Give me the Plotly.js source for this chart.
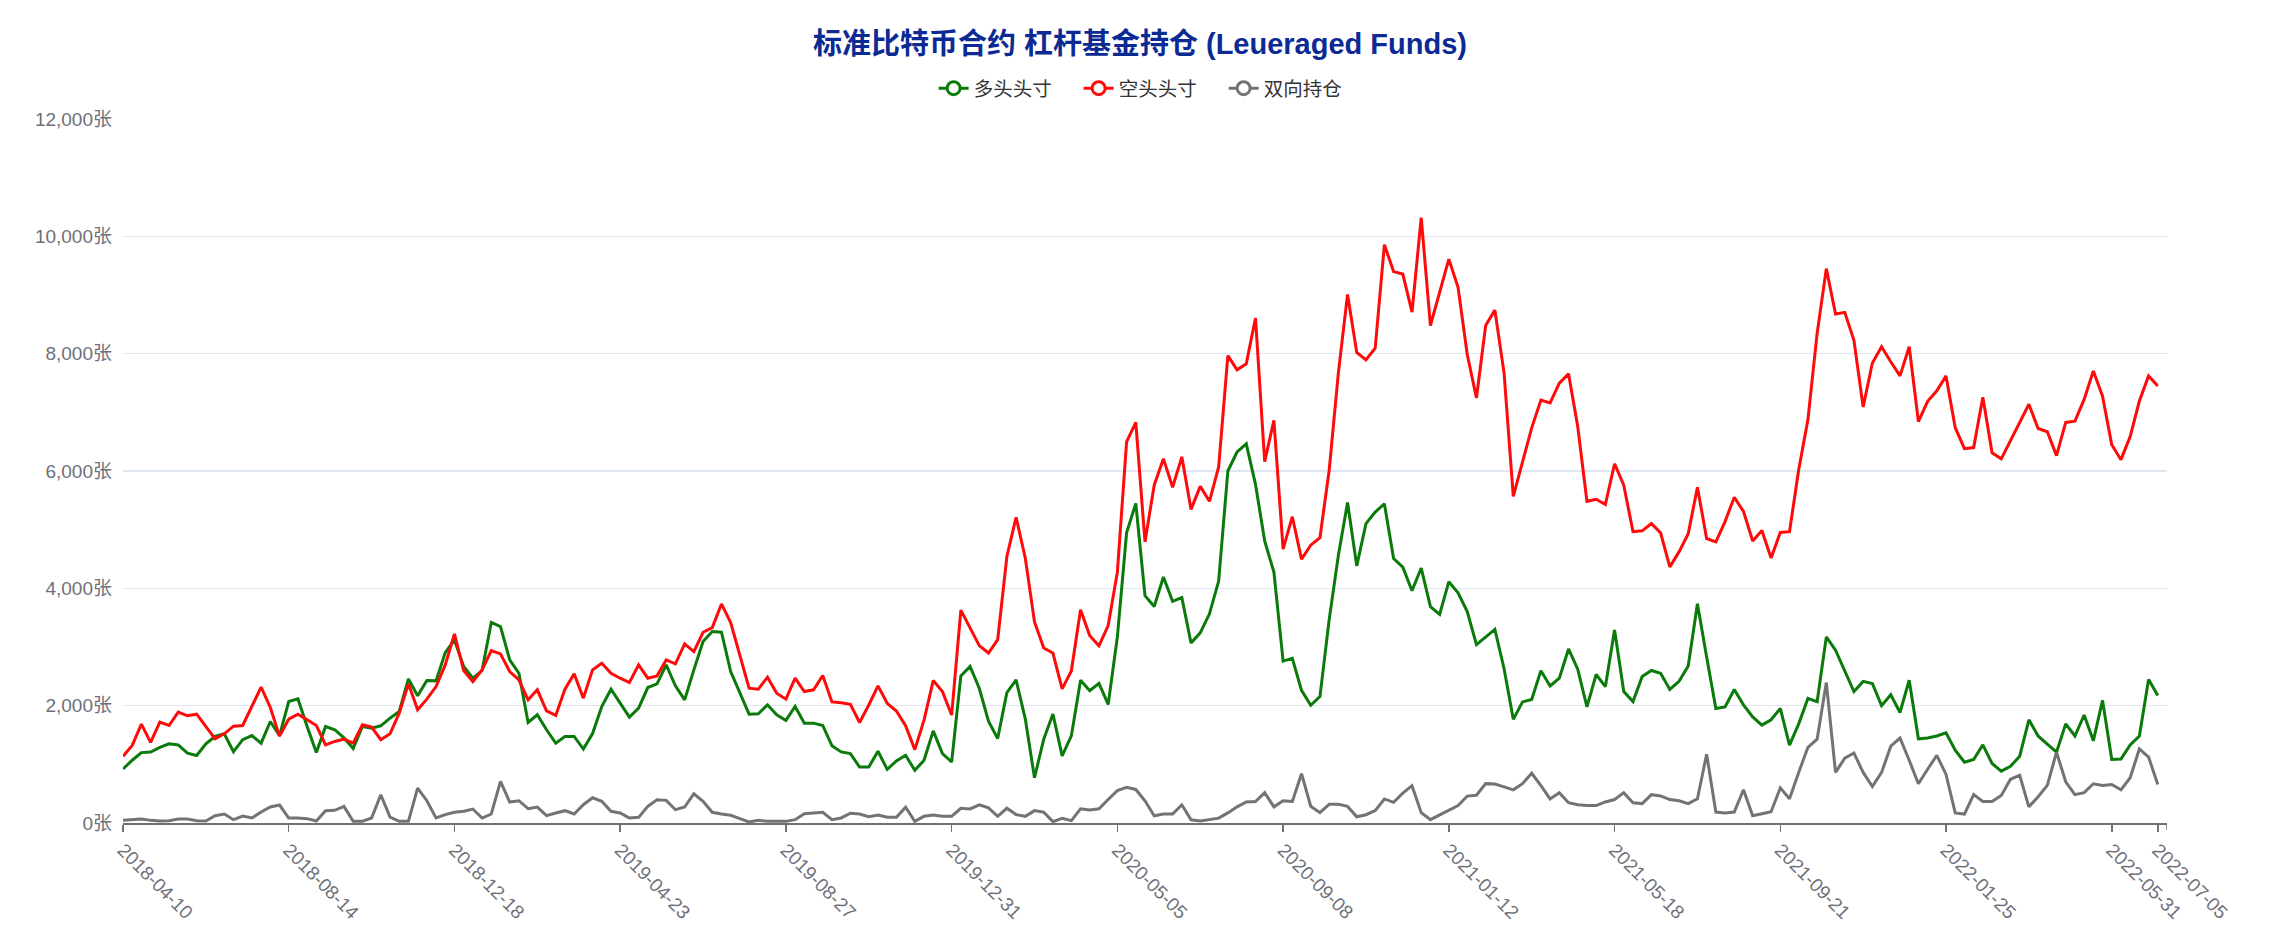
<!DOCTYPE html>
<html>
<head>
<meta charset="utf-8">
<script src="https://cdn.plot.ly/plotly-3.0.1.min.js"></script>
<style>html,body{margin:0;padding:0;background:#fff;}#chart{width:2269px;height:930px;}</style>
</head>
<body>
<div id="chart"></div>
<script>
// weekly report dates, starting 2018-04-10 (222 weeks)
const startDate = '2018-04-10';
const weekCount = 222;
const dates = [];
(function(){
  const t0 = Date.UTC(2018, 3, 10);
  for (let i = 0; i < weekCount; i++) {
    const d = new Date(t0 + i * 7 * 86400000);
    const mm = String(d.getUTCMonth() + 1).padStart(2, '0');
    const dd = String(d.getUTCDate()).padStart(2, '0');
    dates.push(d.getUTCFullYear() + '-' + mm + '-' + dd);
  }
})();

const seriesNames = ['多头头寸', '空头头寸', '双向持仓'];

const longPos = [
920,1070,1200,1210,1290,1350,1330,1190,1150,1350,
1475,1520,1215,1420,1490,1360,1730,1490,2070,2115,
1645,1200,1645,1590,1450,1270,1645,1617,1657,1787,
1900,2457,2168,2429,2423,2905,3121,2667,2468,2599,
3421,3348,2780,2553,1713,1844,1589,1362,1475,1475,
1260,1525,1986,2281,2043,1804,1958,2309,2372,2695,
2338,2099,2610,3092,3263,3251,2582,2213,1855,1861,
2014,1844,1748,1986,1702,1702,1662,1315,1211,1183,
954,954,1223,914,1057,1154,897,1069,1571,1183,
1040,2508,2668,2297,1737,1440,2223,2440,1771,771,
1428,1857,1143,1485,2435,2255,2379,2021,3173,4945,
5449,3876,3690,4193,3779,3842,3069,3242,3566,4124,
6000,6324,6462,5773,4807,4276,2759,2807,2262,2007,
2155,3463,4558,5463,4382,5102,5300,5442,4509,4360,
3958,4346,3689,3555,4113,3922,3604,3039,3166,3300,
2629,1767,2064,2106,2594,2335,2469,2966,2621,1979,
2531,2324,3290,2241,2069,2497,2600,2552,2276,2414,
2676,3738,2828,1952,1979,2276,2014,1807,1669,1759,
1952,1328,1690,2124,2069,3173,2945,2600,2241,2414,
2379,2000,2186,1883,2435,1435,1448,1483,1538,1241,
1035,1083,1331,1014,883,966,1138,1759,1483,1345,
1207,1690,1483,1841,1400,2090,1083,1090,1331,1483,
2448,2172
];

const shortPos = [
1135,1322,1685,1373,1719,1662,1889,1827,1855,1645,
1435,1520,1651,1662,1997,2315,1969,1481,1770,1855,
1759,1662,1333,1390,1430,1362,1674,1634,1419,1521,
1872,2372,1929,2111,2326,2695,3223,2599,2411,2610,
2939,2882,2582,2440,2099,2270,1912,1833,2281,2542,
2128,2610,2724,2553,2468,2394,2695,2468,2508,2780,
2712,3053,2922,3251,3331,3734,3416,2837,2298,2281,
2485,2213,2111,2468,2241,2270,2514,2064,2051,2023,
1714,2011,2337,2040,1908,1657,1251,1754,2428,2240,
1840,3628,3325,3023,2897,3126,4543,5211,4514,3428,
2983,2897,2286,2590,3634,3193,3021,3366,4276,6497,
6828,4793,5759,6207,5724,6241,5345,5738,5483,6069,
7966,7724,7828,8607,6159,6862,4669,5221,4497,4736,
4862,6007,7668,9010,8021,7894,8092,9858,9399,9357,
8707,10318,8480,9060,9611,9130,7986,7244,8480,8742,
7668,5569,6148,6735,7208,7162,7497,7656,6759,5483,
5518,5428,6124,5759,4966,4980,5104,4945,4366,4621,
4931,5724,4849,4793,5138,5552,5311,4807,4986,4517,
4952,4966,6021,6876,8345,9449,8676,8704,8228,7090,
7842,8118,7862,7621,8118,6842,7187,7366,7621,6738,
6380,6400,7256,6311,6207,6518,6828,7138,6724,6669,
6262,6828,6849,7221,7704,7276,6449,6193,6586,7193,
7621,7449
];

const spreadPos = [
45,62,68,45,34,40,68,68,40,34,
125,153,57,119,85,187,272,306,85,85,
74,34,210,216,284,30,28,85,482,102,
28,28,596,380,85,142,182,199,238,85,
153,709,357,380,244,272,125,170,210,153,
312,430,369,199,170,85,96,284,397,386,
227,272,499,369,182,153,131,74,17,45,
28,28,28,57,159,170,182,57,86,166,
154,109,137,97,97,269,29,114,137,114,
114,251,240,309,257,114,251,143,114,211,
183,23,80,40,241,221,241,400,552,607,
572,379,124,152,152,310,55,34,55,83,
172,276,359,366,517,276,379,366,841,286,
177,318,318,283,106,141,212,410,353,509,
636,177,57,141,226,297,459,473,671,664,
615,565,671,848,636,410,517,345,310,297,
297,359,400,517,345,331,483,462,400,379,
331,414,1172,186,172,186,566,124,159,193,
600,414,862,1290,1428,2393,862,1104,1193,862,
621,862,1310,1448,1069,669,917,1152,828,172,
152,483,366,366,469,745,814,276,448,641,
1207,703,483,517,669,641,655,566,772,1262,
1124,655
];

const seriesColors = ['#0a7a0a', '#ff0a0a', '#737373'];
const seriesValues = [longPos, shortPos, spreadPos];

// tick labels: every 18th week plus the last one
const tickLabels = [];
for (let i = 0; i < dates.length; i += 18) tickLabels.push(dates[i]);
tickLabels.push(dates[dates.length - 1]);

const FONT = 'Liberation Sans, Noto Sans CJK SC, sans-serif';
const traces = [];
// legend-only entries (line with hollow circle icon)
seriesNames.forEach((n, k) => {
  traces.push({
    x: [null], y: [null], type: 'scatter', mode: 'lines+markers', name: n,
    legendgroup: n, showlegend: true, hoverinfo: 'skip',
    line: {color: seriesColors[k], width: 3},
    marker: {symbol: 'circle', size: 13, color: '#ffffff', line: {color: seriesColors[k], width: 3}}
  });
});
seriesNames.forEach((n, k) => {
  traces.push({
    x: dates, y: seriesValues[k], type: 'scatter', mode: 'lines', name: n,
    legendgroup: n, showlegend: false,
    line: {color: seriesColors[k], width: 3, shape: 'linear'}
  });
});

const layout = {
  width: 2269, height: 930,
  margin: {l: 122.5, r: 102, t: 118.5, b: 106.6, pad: 0},
  paper_bgcolor: '#ffffff', plot_bgcolor: '#ffffff',
  showlegend: true,
  title: {
    text: '标准比特币合约 杠杆基金持仓 (Leueraged Funds)',
    font: {family: FONT, size: 29, color: '#0b2a94', weight: 'bold'},
    x: 0.5024, xref: 'container', xanchor: 'center',
    y: 0.9527, yref: 'container', yanchor: 'middle'
  },
  legend: {
    orientation: 'h', x: 0.503, xanchor: 'center', y: 1.0433, yanchor: 'middle',
    font: {family: FONT, size: 19.5, color: '#333333'},
    bgcolor: 'rgba(0,0,0,0)', itemwidth: 30, traceorder: 'normal',
    entrywidth: 100, entrywidthmode: 'pixels'
  },
  xaxis: {
    type: 'category', range: [0, 222],
    tickmode: 'array', tickvals: tickLabels, ticktext: tickLabels,
    tickangle: 45,
    showline: true, linecolor: '#6e7079', linewidth: 1.5,
    ticks: 'outside', ticklen: 7, tickcolor: '#6e7079', tickwidth: 1.5,
    showgrid: false, zeroline: false,
    tickfont: {family: FONT, size: 19, color: '#6e7079'}
  },
  yaxis: {
    range: [0, 12000], dtick: 2000, tick0: 0, tickformat: ',d', ticksuffix: '张',
    showgrid: true, gridcolor: '#e0e6f1', gridwidth: 1.5,
    zeroline: false, showline: false, ticks: '',
    ticklabelstandoff: 10,
    tickfont: {family: FONT, size: 19, color: '#6e7079'}
  },
  shapes: [{
    type: 'line', xref: 'x', yref: 'paper', x0: 222, x1: 222, y0: 0, y1: -0.0099,
    line: {color: '#6e7079', width: 1.5}
  }]
};

Plotly.newPlot('chart', traces, layout, {displayModeBar: false, staticPlot: true});
</script>
</body>
</html>
